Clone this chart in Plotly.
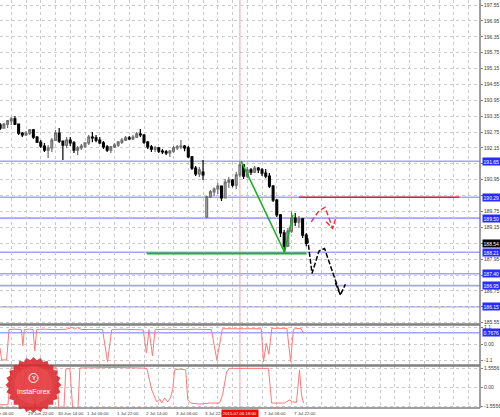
import numpy as np
import plotly.graph_objects as go

# H1 chart, x = hours counted from 29 Jun 06:00 (weekend bars removed),
# one candle drawn for every 2 hours
bar_idx = list(range(2, 170, 2))
bar_open = [193.02, 192.90, 193.05, 193.17, 193.25, 193.05, 192.71, 192.64, 192.71, 192.83,
            192.56, 192.37, 192.22, 192.07, 192.15, 192.45, 192.71, 192.41, 192.26, 192.45,
            192.34, 192.07, 192.15, 192.22, 192.34, 192.56, 192.53, 192.45, 192.34, 192.19,
            192.07, 192.19, 192.26, 192.37, 192.45, 192.53, 192.49, 192.56, 192.68, 192.64,
            192.37, 192.19, 192.11, 192.15, 192.03, 192.00, 191.96, 192.03, 192.15, 192.19,
            192.22, 192.15, 191.81, 191.39, 191.17, 191.24, 189.54, 190.30, 190.49, 190.60,
            190.71, 190.26, 190.86, 190.94, 190.75, 191.13, 191.51, 191.09, 191.32, 191.24,
            191.39, 191.32, 191.20, 191.09, 190.71, 190.18, 189.62, 188.94, 188.44, 189.01,
            189.50, 189.35, 189.47, 188.86]
bar_high = [193.09, 193.09, 193.21, 193.32, 193.36, 193.05, 192.75, 192.79, 192.87, 192.87,
            192.60, 192.45, 192.34, 192.26, 192.53, 192.83, 192.90, 192.41, 192.56, 192.56,
            192.41, 192.22, 192.30, 192.37, 192.64, 192.75, 192.64, 192.56, 192.41, 192.26,
            192.22, 192.34, 192.41, 192.53, 192.60, 192.60, 192.64, 192.75, 192.87, 192.68,
            192.41, 192.26, 192.22, 192.19, 192.11, 192.07, 192.07, 192.22, 192.26, 192.45,
            192.26, 192.22, 191.85, 191.47, 191.43, 191.70, 190.34, 190.56, 190.67, 190.83,
            190.71, 190.98, 191.05, 190.98, 191.24, 191.65, 191.54, 191.43, 191.39, 191.47,
            191.43, 191.39, 191.36, 191.20, 190.75, 190.22, 189.66, 189.05, 189.13, 189.74,
            189.69, 189.58, 189.50, 188.94]
bar_low = [192.83, 192.90, 192.90, 193.02, 193.02, 192.64, 192.56, 192.60, 192.64, 192.49,
           192.34, 192.15, 192.00, 191.77, 192.00, 192.41, 192.34, 191.70, 192.15, 192.22,
           191.96, 191.88, 192.07, 192.15, 192.26, 192.37, 192.37, 192.30, 192.11, 192.00,
           191.96, 192.15, 192.19, 192.30, 192.41, 192.45, 192.45, 192.53, 192.56, 192.30,
           192.11, 192.00, 192.00, 191.96, 191.92, 191.88, 191.81, 191.96, 192.07, 192.11,
           192.03, 191.77, 191.32, 191.09, 191.05, 190.94, 189.50, 190.26, 190.34, 190.41,
           190.15, 190.26, 190.64, 190.67, 190.60, 191.05, 190.98, 191.01, 191.13, 191.20,
           191.20, 191.09, 191.01, 190.64, 190.11, 189.54, 188.79, 188.21, 188.41, 188.94,
           189.20, 189.13, 188.75, 188.44]
bar_close = [192.90, 193.05, 193.17, 193.25, 193.05, 192.71, 192.64, 192.71, 192.83, 192.56,
             192.37, 192.22, 192.07, 192.15, 192.45, 192.71, 192.41, 192.26, 192.45, 192.34,
             192.07, 192.15, 192.22, 192.34, 192.56, 192.53, 192.45, 192.34, 192.19, 192.07,
             192.19, 192.26, 192.37, 192.45, 192.53, 192.49, 192.56, 192.68, 192.64, 192.37,
             192.19, 192.11, 192.15, 192.03, 192.00, 191.96, 192.03, 192.15, 192.19, 192.22,
             192.15, 191.81, 191.39, 191.17, 191.32, 191.13, 190.30, 190.49, 190.60, 190.71,
             190.26, 190.86, 190.94, 190.75, 191.13, 191.51, 191.09, 191.32, 191.24, 191.39,
             191.32, 191.20, 191.09, 190.71, 190.18, 189.62, 188.94, 188.44, 189.01, 189.50,
             189.35, 189.47, 188.86, 188.54]

price_ticks = [197.55, 196.95, 196.35, 195.75, 195.15, 194.55, 193.95, 193.35, 192.75, 192.15,
               191.55, 190.95, 190.35, 189.75, 189.15, 188.55, 187.95, 187.35, 186.75, 186.15, 185.55]
# tick labels hidden under the price tags
hidden_ticks = [191.55, 190.35, 188.55, 187.35, 186.15]
level_prices = [191.65, 190.29, 189.50, 188.21, 187.40, 186.95, 186.15]
last_price = 188.54

first_label = '29 Jun 06:00'   # partly outside the chart on the left
time_idx = [16, 32, 48, 64, 80, 96, 112, 144, 160]
time_labels = ['29 Jun 22:00', '30 Jun 14:00', '1 Jul 06:00', '1 Jul 22:00',
               '2 Jul 14:00', '3 Jul 06:00', '3 Jul 22:00', '7 Jul 06:00', '7 Jul 22:00']
marker_idx = 132
marker_label = '2015.07.06 18:00'

# drawn analysis
wave_x = [132.7, 156.2, 160.7]
wave_y = [191.65, 188.21, 189.62]
support_x = [81.5, 168.0]
support_y = [188.16, 188.16]
resist_x = [164.0, 251.0]
resist_y = [190.29, 190.29]
down_x = [168.7, 171.1, 174.9, 177.9, 186.5]
down_y = [188.75, 187.41, 188.26, 188.35, 186.60]
down_head_x = [183.8, 186.5, 189.2]
down_head_y = [187.05, 186.60, 187.00]
up_x = [170.7, 174.8, 178.2, 182.3]
up_y = [189.36, 189.77, 189.91, 189.11]
up_head_x = [178.8, 182.3, 184.2]
up_head_y = [189.36, 189.11, 189.55]

# oscillator 1
osc1_x = [1.9, 2.8, 5.5, 6.8, 10, 13.5, 14.3, 15.1, 18, 19.8, 20.8, 21.8, 26, 32, 38, 41, 42.5,
          44, 46, 50, 56, 57.5, 60.2, 62.5, 68, 74, 79.6, 81.3, 82.7, 84.6, 86, 92, 100, 108,
          116.5, 119.5, 122.5, 130, 138, 143.6, 144.8, 146.3, 147.7, 149.3, 157.5, 159.5, 161,
          163.4, 165.2, 166.5]
osc1_y = [-0.25, -1.05, -1.05, 0.98, 1.0, 0.97, -0.1, 0.97, 1.0, 0.98, -0.45, 0.98, 1.0, 0.97,
          1.0, 1.12, 1.0, 1.12, 0.98, 1.0, 0.98, 0.97, -1.17, 0.97, 1.0, 0.98, 0.95, -0.59, 0.97,
          -0.79, 0.97, 1.0, 0.97, 1.0, 0.97, -1.05, 1.03, 1.03, 1.05, 1.03, -1.17, 0.06, -0.67,
          1.06, 1.06, -1.17, 1.0, 1.06, 1.03, 0.73]
osc1_level = 0.7676

# oscillator 2
osc2_x = [1.9, 6.2, 7.9, 12.7, 14.3, 16, 19.2, 20.8, 22.5, 32.8, 33.8, 36.5, 37.6, 39.8, 41.4,
          44.1, 45.2, 64.2, 77.7, 81.5, 84.2, 86.9, 88.5, 89.6, 91.2, 92.9, 94.5, 95.6, 96.6,
          99.3, 102.6, 103.7, 105.3, 110.2, 115.6, 121, 122.6, 124.8, 126.4, 147.5, 149.2,
          156.2, 158.9, 160.5, 162.7, 164.3, 165.4, 166.5]
osc2_y = [-1.4, -1.4, 1.58, 1.58, -0.6, 1.58, 1.58, -1.9, 1.58, 1.58, -1.9, -1.9, 1.5, 1.55,
          -1.9, -1.9, 1.58, 1.62, 1.58, 1.55, -0.2, -1.17, -0.93, -1.26, -0.85, -1.17, -0.77,
          -0.12, 1.42, 1.5, 1.42, -1.0, -1.26, -1.34, -1.26, -1.26, -0.6, 1.26, 1.55, 1.55,
          -1.26, -1.26, -1.0, -1.17, -1.2, 1.42, -0.6, -1.26]

W, H = 480, 408          # plot area in pixels
GRID = '#cacaca'
LEVEL = '#a3a3ff'
FRAME = '#7f7f7f'
TXT = '#3a3a3a'
FONT = 'Liberation Sans'

fig = go.Figure()

fig.add_trace(go.Candlestick(
    x=bar_idx, open=bar_open, high=bar_high, low=bar_low, close=bar_close,
    increasing=dict(line=dict(color='#6e6e6e', width=1.2), fillcolor='#b8b8b8'),
    decreasing=dict(line=dict(color='#000000', width=1.2), fillcolor='#000000'),
    whiskerwidth=0, hoverinfo='skip', showlegend=False, yaxis='y'
))

def line(x, y, color, width, dash='solid', yaxis='y'):
    fig.add_trace(go.Scatter(x=x, y=y, mode='lines', yaxis=yaxis, hoverinfo='skip',
                             showlegend=False, line=dict(color=color, width=width, dash=dash)))

line(support_x, support_y, '#1fae2a', 2)
line(wave_x, wave_y, '#1fae2a', 1.6)
line(resist_x, resist_y, '#ff1a1a', 1.5)
line(down_x, down_y, '#000000', 1.5, dash='5px,2px')
line(down_head_x, down_head_y, '#000000', 1.5, dash='5px,2px')
line(up_x, up_y, '#ff2a2a', 1.4, dash='5px,3px')
line(up_head_x, up_head_y, '#ff2a2a', 1.4, dash='5px,2px')

line(osc1_x, osc1_y, '#ff7878', 1, yaxis='y2')
line(osc2_x, osc2_y, '#ff7878', 1, yaxis='y3')

shapes = []
for p in level_prices:
    shapes.append(dict(type='line', xref='paper', x0=0, x1=1, yref='y', y0=p, y1=p,
                       line=dict(color=LEVEL, width=1.6), layer='below'))
shapes.append(dict(type='line', xref='paper', x0=0, x1=1, yref='y2', y0=osc1_level, y1=osc1_level,
                   line=dict(color=LEVEL, width=1.6), layer='below'))
shapes.append(dict(type='line', xref='x', x0=marker_idx, x1=marker_idx, yref='paper', y0=0, y1=1,
                   line=dict(color='#ff9a9a', width=1), layer='below'))
# panel separators and frame
for yy, w in [(1 - 324.5 / H, 2.5), (1 - 365.5 / H, 2.5), (0, 1.5)]:
    shapes.append(dict(type='line', xref='paper', x0=0, x1=1, yref='paper', y0=yy, y1=yy,
                       line=dict(color=FRAME, width=w)))
shapes.append(dict(type='line', xref='paper', x0=1, x1=1, yref='paper', y0=0, y1=1,
                   line=dict(color=FRAME, width=1.5)))

# InstaForex badge
def star_path(cx, cy, r_out, r_in, n):
    pts = []
    for k in range(2 * n):
        r = r_out if k % 2 == 0 else r_in
        a = np.pi * k / n
        pts.append(((cx + r * np.cos(a)) / W, 1 - (cy + r * np.sin(a)) / H))
    return 'M ' + ' L '.join(f'{x:.4f},{y:.4f}' for x, y in pts) + ' Z'

cx, cy = 33.5, 385
shapes.append(dict(type='path', xref='paper', yref='paper', path=star_path(cx, cy, 28, 25, 24),
                   fillcolor='#d9262b', line=dict(width=0), opacity=0.88))
shapes.append(dict(type='circle', xref='paper', yref='paper',
                   x0=(cx - 19) / W, x1=(cx + 19) / W, y0=1 - (cy + 19) / H, y1=1 - (cy - 19) / H,
                   fillcolor='#ef5656', line=dict(width=0), opacity=0.45))
shapes.append(dict(type='circle', xref='paper', yref='paper',
                   x0=(cx - 4.5) / W, x1=(cx + 4.5) / W, y0=1 - (378 + 4.5) / H, y1=1 - (378 - 4.5) / H,
                   line=dict(color='white', width=1)))

annotations = []
XLAB = dict(size=4.4, color=TXT, family=FONT)
annotations.append(dict(x=16 / W, xref='paper', y=0, yref='paper', yanchor='top', xanchor='right',
                        yshift=-1, text=first_label, showarrow=False, font=XLAB))
for i, t in zip(time_idx, time_labels):
    annotations.append(dict(x=i, xref='x', y=0, yref='paper', yanchor='top', xanchor='left',
                            yshift=-1, text=t, showarrow=False, font=XLAB))
annotations.append(dict(x=marker_idx, xref='x', y=0, yref='paper', yanchor='top', xanchor='center',
                        yshift=-1, text=marker_label, showarrow=False, bgcolor='#ff0000',
                        borderpad=0.8, font=dict(size=4.3, color='white', family=FONT)))

def tag(val, yref, text, bg):
    annotations.append(dict(x=1, xref='paper', y=val, yref=yref, xanchor='left', yanchor='middle',
                            xshift=1.5, text=text, showarrow=False, bgcolor=bg, borderpad=0.6,
                            font=dict(size=5, color='white', family=FONT)))

for p in level_prices:
    tag(p, 'y', f'{p:.2f}', '#2b2bff')
tag(last_price, 'y', f'{last_price:.2f}', '#000000')
tag(osc1_level, 'y2', f'{osc1_level:.4f}', '#2b2bff')

annotations.append(dict(x=cx / W, xref='paper', y=1 - 378 / H, yref='paper', text='<b>Y</b>',
                        xanchor='center', yanchor='middle',
                        showarrow=False, font=dict(size=6, color='white', family=FONT)))
annotations.append(dict(x=cx / W, xref='paper', y=1 - 391 / H, yref='paper', text='InstaForex',
                        xanchor='center', yanchor='middle',
                        showarrow=False, font=dict(size=7, color='white', family=FONT)))

yax = dict(side='right', anchor='x', showgrid=True, gridcolor=GRID, griddash='dot', gridwidth=1,
           zeroline=False, ticks='outside', ticklen=2, tickcolor=FRAME, showline=False,
           tickfont=dict(size=5, color=TXT, family=FONT), fixedrange=True)

fig.update_layout(
    width=500, height=417,
    margin=dict(l=0, r=20, t=0, b=9),
    paper_bgcolor='white', plot_bgcolor='white',
    showlegend=False,
    xaxis=dict(range=[1.9, 262.2], anchor='y3', tickvals=list(range(0, 264, 8)),
               showticklabels=False, ticks='', showgrid=True, gridcolor=GRID, griddash='dot',
               gridwidth=1, zeroline=False, showline=False, rangeslider=dict(visible=False)),
    yaxis=dict(yax, domain=[0.2059, 1], range=[185.50, 197.74], tickvals=price_ticks,
               ticktext=['' if v in hidden_ticks else f'{v:.2f}' for v in price_ticks]),
    yaxis2=dict(yax, domain=[0.1054, 0.2034], range=[-1.39, 1.28], tickvals=[1.1, 0, -1.1],
                ticktext=['1.1', '0.00', '-1.1']),
    yaxis3=dict(yax, domain=[0, 0.1029], range=[-1.66, 1.74], tickvals=[1.5556, 0, -1.5556],
                ticktext=['1.5556', '0.00', '-1.5556']),
    shapes=shapes,
    annotations=annotations,
)

# the page body has a default 8px margin; remove it so the chart sits at the window origin
fig.write_html('out.html', config={'displayModeBar': False},
               post_script="document.body.style.margin='0';document.body.style.overflow='hidden';")
